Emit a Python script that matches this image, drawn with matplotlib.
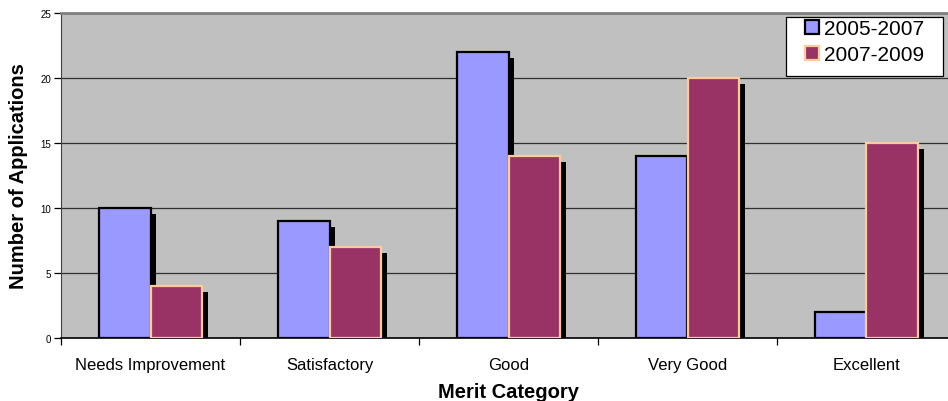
import matplotlib

matplotlib.use("Agg")
import matplotlib.pyplot as plt
import matplotlib.patheffects as pe
from matplotlib.patches import Rectangle
import numpy as np

plt.rcParams["font.family"] = ["Liberation Sans", "DejaVu Sans"]

categories = ["Needs Improvement", "Satisfactory", "Good", "Very Good", "Excellent"]
series_names = ["2005-2007", "2007-2009"]
values_0507 = [10, 9, 22, 14, 2]
values_0709 = [4, 7, 14, 20, 15]
y_ticks = [0, 5, 10, 15, 20, 25]

BLUE = "#9999FF"
PLUM = "#993366"
PEACH = "#FFCC99"
PANEL = "#C0C0C0"

W, H = 948, 402
fig = plt.figure(figsize=(W / 100, H / 100), dpi=100)
# plot area runs past the right edge of the image, as in the original
ax = fig.add_axes([61 / W, 1 - 339 / H, (956 - 61) / W, (339 - 14) / H])
ax.set_facecolor(PANEL)

x = np.arange(len(categories))
bw = 0.29
shadow = [pe.SimplePatchShadow(offset=(4, -4), shadow_rgbFace="black", alpha=1.0), pe.Normal()]

b1 = ax.bar(x - bw / 2, values_0507, bw, color=BLUE, edgecolor="black", linewidth=1.6, zorder=3)
b2 = ax.bar(x + bw / 2, values_0709, bw, color=PLUM, edgecolor=PEACH, linewidth=1.6, zorder=3)
for p in list(b1) + list(b2):
    p.set_path_effects(shadow)

ax.set_xlim(-0.5, len(categories) - 0.5)
ax.set_ylim(0, 25)
ax.set_yticks(y_ticks)
ax.yaxis.grid(True, color="#303030", linewidth=0.9, zorder=1)
ax.set_axisbelow(True)

ax.set_xticks(np.arange(-0.5, len(categories)), labels=[""] * (len(categories) + 1))
ax.set_xticks(x, labels=categories, minor=True)
ax.tick_params(axis="x", which="major", length=5, width=0.9, color="black")
ax.tick_params(axis="x", which="minor", length=0, labelsize=12, pad=14)
ax.tick_params(axis="y", length=5, width=0.9, labelsize=7, pad=2)

ax.spines["top"].set_color("#808080")
ax.spines["top"].set_linewidth(2)
ax.spines["right"].set_visible(False)
ax.spines["left"].set_color("#404040")
ax.spines["bottom"].set_color("black")
ax.spines["bottom"].set_linewidth(1.2)

ax.set_ylabel("Number of Applications", fontsize=14.5, fontweight="bold", labelpad=9)
ax.set_xlabel("Merit Category", fontsize=14.5, fontweight="bold", labelpad=7)

# legend box drawn separately so its side padding can differ from the top/bottom
fig.patches.append(Rectangle((786 / W, 1 - 77 / H), (943 - 786) / W, (77 - 18) / H,
                             transform=fig.transFigure, facecolor="white",
                             edgecolor="black", linewidth=0.9, zorder=5))
handles = [
    Rectangle((0, 0), 1, 1, facecolor=BLUE, edgecolor="black", linewidth=1.6),
    Rectangle((0, 0), 1, 1, facecolor=PLUM, edgecolor=PEACH, linewidth=1.6),
]
leg = fig.legend(
    handles, series_names, loc="upper left",
    bbox_to_anchor=(805 / W, 1 - 20 / H), bbox_transform=fig.transFigure,
    fontsize=15, frameon=False,
    handlelength=0.67, handleheight=0.67, handletextpad=0.24,
    borderpad=0, labelspacing=0.35, borderaxespad=0,
)
leg.set_zorder(6)

fig.savefig("out.png", dpi=100)
